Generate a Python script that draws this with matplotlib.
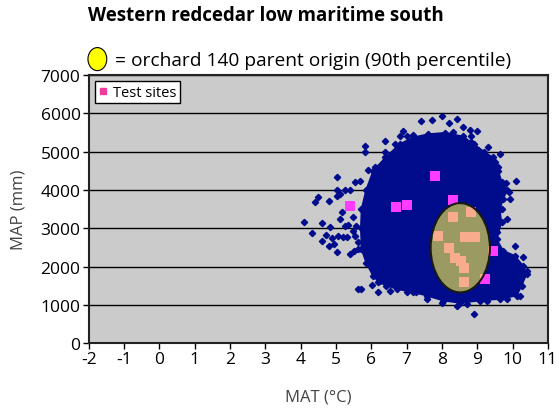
import matplotlib
matplotlib.use("Agg")
import matplotlib.pyplot as plt
from matplotlib.patches import Polygon, Ellipse
from matplotlib.lines import Line2D

plt.rcParams['font.family'] = ['Open Sans', 'DejaVu Sans']
plt.rcParams['axes.unicode_minus'] = False

# dense core of the climate cloud (MAT, MAP)
core_mat = [6.05, 6.40, 6.80, 7.20, 7.60, 8.10, 8.60, 8.90, 9.20, 9.45, 9.60, 9.70,
            9.85, 9.74, 9.64, 9.69, 9.55, 9.74, 10.07, 10.30, 10.40, 10.26,
            10.12, 9.64, 9.08, 8.51, 8.04, 7.57, 7.19, 6.72, 6.43, 6.20, 6.05,
            5.85, 5.72, 5.70, 5.72, 5.85]
core_map = [4500, 4850, 5200, 5380, 5460, 5500, 5400, 5200, 5000, 4850, 4500, 4200,
            4000, 3761, 3500, 3152, 2716, 2412, 2281, 2020, 1802, 1498,
            1236, 1149, 1106, 1045, 1106, 1236, 1323, 1410, 1498, 1600, 1750,
            2100, 2455, 3000, 3500, 4000]

# scattered points around the edge of the cloud
pts_mat = [4.10, 4.31, 4.40, 4.50, 4.61, 4.59, 4.81, 4.83, 4.71, 4.81, 4.95, 5.02,
           4.89, 5.06, 5.20, 5.30, 5.02, 5.04, 5.02, 5.11, 5.25, 5.39, 5.16, 5.11,
           5.35, 5.49, 5.25, 5.54, 5.63, 5.39, 5.51, 5.63, 5.58, 5.49, 5.68, 5.54,
           5.82, 5.82, 5.91, 6.10, 6.20, 6.40, 6.40, 6.43, 5.63, 5.72, 6.01, 6.20,
           6.24, 6.39, 6.15, 6.53, 7.00, 7.28,
           8.01, 7.71, 7.40, 8.21, 8.42, 8.60, 8.79, 9.00, 8.81, 8.81, 9.31, 9.03,
           9.64, 9.50, 9.60, 10.10, 9.81, 9.91, 6.90, 7.00, 6.81, 7.19, 8.32, 6.67,
           6.72,
           9.93, 9.69, 9.83, 9.55, 10.07, 10.30, 10.42, 10.21,
           8.01, 8.42, 8.92, 7.57, 8.70, 9.27, 9.83]
pts_map = [3169, 2873, 3674, 3822, 3134, 2655, 3718, 3021, 2821, 2525, 2586, 2385,
           2734, 2803, 2760, 2760, 3831, 3996, 4327, 3892, 3996, 3996, 3413, 3239,
           3082, 2934, 3047, 2803, 2629, 2324, 2412, 2455, 3065, 3282, 4240, 4196,
           5154, 4998, 4527, 4588, 4475, 5267, 4998, 4806, 1410, 1410, 1523, 1341,
           1628, 1584, 1889, 1366, 1340, 1340,
           5921, 5834, 5790, 5747, 5851, 5651, 5564, 5546, 5416, 5242, 5129, 5041,
           4937, 4719, 4589, 4240, 4171, 3936, 5529, 5416, 5398, 5433, 5502, 5198,
           4980,
           3761, 3500, 3238, 2890, 2542, 2237, 1889, 1236,
           1044, 975, 757, 1149, 1018, 1105, 1149]

# test sites
site_mat = [5.39, 6.69, 7.00, 7.80, 8.30, 8.32, 8.82, 7.90, 8.65, 8.93, 8.21,
            8.37, 8.55, 8.63, 8.63, 9.44, 9.23]
site_map = [3587, 3544, 3613, 4354, 3743, 3300, 3413, 2787, 2761, 2761, 2473,
            2212, 2150, 1950, 1585, 2411, 1672]

# orchard 140 parent origin (90th percentile)
orch_mat, orch_map = 8.52, 2490
orch_w, orch_h = 1.68, 2333

navy = '#000c8c'
fig, ax = plt.subplots(figsize=(5.59, 4.14), dpi=100)
fig.subplots_adjust(left=0.159, right=0.980, bottom=0.169, top=0.816)
ax.set_facecolor('#cbcbcb')

ax.add_patch(Polygon(list(zip(core_mat, core_map)), closed=True,
                     facecolor=navy, edgecolor=navy, lw=1, zorder=3))
ax.plot(core_mat, core_map, 'D', color=navy, ms=3.2, zorder=3)
ax.plot(pts_mat, pts_map, 'D', color=navy, ms=3.2, zorder=3)

ax.scatter(site_mat, site_map, marker='s', s=42, color='#ff3cff',
           linewidths=0, zorder=4)

ax.add_patch(Ellipse((orch_mat, orch_map), orch_w, orch_h,
                     facecolor='#f7ef4b', alpha=0.63, edgecolor='none', zorder=5))
ax.add_patch(Ellipse((orch_mat, orch_map), orch_w, orch_h,
                     facecolor='none', edgecolor='#1a1a10', lw=1.5, zorder=5))

ax.set_xlim(-2, 11)
ax.set_ylim(0, 7000)
ax.set_xticks(range(-2, 12))
ax.set_yticks(range(0, 7001, 1000))
ax.yaxis.grid(True, color='black', lw=1)
ax.set_axisbelow(True)
for s in ax.spines.values():
    s.set_linewidth(1.5)
    s.set_color('#222222')
ax.tick_params(direction='out', length=4, width=1, labelsize=12.5, pad=2)

ax.set_xlabel('MAT (°C)', fontsize=12, color='#444444', labelpad=15)
ax.set_ylabel('MAP (mm)', fontsize=12, color='#444444', labelpad=10)

handle = Line2D([], [], marker='s', ls='none', color='#f03c9e', ms=5)
leg = ax.legend([handle], ['Test sites'], loc='upper left', fontsize=10.5,
                fancybox=False, framealpha=1, edgecolor='black',
                borderaxespad=0.4, handlelength=0.6, handletextpad=0.4,
                borderpad=0.25)
leg.get_frame().set_linewidth(1)

# legend for the orchard ellipse above the plot
ax.add_patch(Ellipse((0.0185, 1.06), 0.041, 0.086, transform=ax.transAxes,
                     facecolor='#ffff00', edgecolor='black', lw=0.8, clip_on=False))
ax.text(0.0566, 1.058, '= orchard 140 parent origin (90th percentile)',
        transform=ax.transAxes, fontsize=13.8, va='center', ha='left')
fig.text(88 / 559, 1 - 16 / 414, 'Western redcedar low maritime south',
         fontsize=13.5, fontweight='bold', va='center', ha='left')

fig.savefig('out.png', dpi=100)
